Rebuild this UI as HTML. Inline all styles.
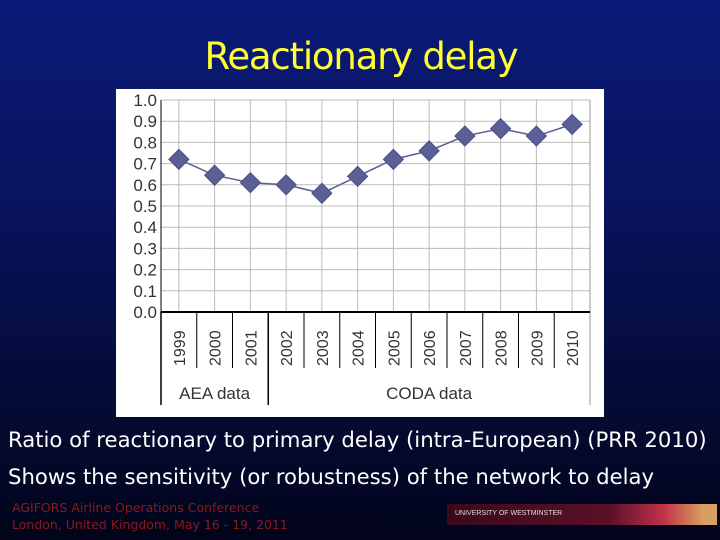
<!DOCTYPE html>
<html><head><meta charset="utf-8"><style>
body{margin:0;width:720px;height:540px;overflow:hidden;font-family:"Liberation Sans",sans-serif;}
#slide{position:relative;width:720px;height:540px;background:linear-gradient(180deg,#0b1a78 0%,#081460 35%,#050c3a 70%,#02041a 100%);}
.t{position:absolute;white-space:nowrap;}
</style></head><body>
<div id="slide">
<div class="t" style="left:0;width:722px;text-align:center;top:35px;font-size:37px;color:#ffff33;font-family:'DejaVu Sans',sans-serif;letter-spacing:-1.2px;">Reactionary delay</div>
<svg id="chart" style="position:absolute;left:116px;top:89px" width="488" height="328"></svg>
<div class="t" style="left:8px;top:427px;font-size:21.2px;color:#fff;font-family:'DejaVu Sans',sans-serif;">Ratio of reactionary to primary delay (intra-European) (PRR 2010)</div>
<div class="t" style="left:8px;top:464px;font-size:21.2px;color:#fff;font-family:'DejaVu Sans',sans-serif;">Shows the sensitivity (or robustness) of the network to delay</div>
<div class="t" style="left:12px;top:499px;font-size:12.5px;color:#8a1a1a;line-height:17px;font-family:'DejaVu Sans',sans-serif;">AGIFORS Airline Operations Conference<br>London, United Kingdom, May 16 - 19, 2011</div>
<div style="position:absolute;left:447px;top:504px;width:270px;height:21px;background:linear-gradient(90deg,#3a0a1a,#5a1028 60%,#c0304a 80%,#d8a060 95%);">
<span style="position:absolute;left:8px;top:6px;font-size:7px;color:#ddd;">UNIVERSITY OF WESTMINSTER</span></div>
</div>
<script>
const categories=["1999","2000","2001","2002","2003","2004","2005","2006","2007","2008","2009","2010"];
const values=[0.72,0.645,0.61,0.60,0.56,0.64,0.72,0.76,0.83,0.865,0.83,0.885];
const yTicks=["0.0","0.1","0.2","0.3","0.4","0.5","0.6","0.7","0.8","0.9","1.0"];
const groups=[{name:"AEA data",start:0,end:3},{name:"CODA data",start:3,end:12}];
const svg=document.getElementById('chart');
const NS="http://www.w3.org/2000/svg";
const L=45,R=474,T=11,B=223,Y2=279,BOT=316;
const bw=(R-L)/categories.length;
const x=i=>L+bw*(i+0.5);
const y=v=>B-(B-T)*v;
function mk(t,a){const e=document.createElementNS(NS,t);for(const k in a)e.setAttribute(k,a[k]);svg.appendChild(e);return e;}
let bg=mk('rect',{x:0,y:0,width:488,height:328,fill:'#fff'});

yTicks.forEach(t=>{const v=parseFloat(t);
 let g=mk('line',{x1:L,x2:R,y1:y(v),y2:y(v),stroke:'#bbb','stroke-width':1});
 
 let tx=mk('text',{x:L-4,y:y(v)+6,'text-anchor':'end','font-size':17,fill:'#333','font-family':'Liberation Sans'});tx.textContent=t;
 });
categories.forEach((c,i)=>{
 let g=mk('line',{x1:x(i),x2:x(i),y1:T,y2:B,stroke:'#bbb','stroke-width':1});
 
 let s=mk('line',{x1:L+bw*i,x2:L+bw*i,y1:B,y2:Y2,stroke:'#000','stroke-width':1});
 
 let tx=mk('text',{x:0,y:0,'font-size':16,fill:'#333','font-family':'Liberation Sans',transform:`translate(${x(i)+6},${Y2-2}) rotate(-90)`});tx.textContent=c;
 });
let rl=mk('line',{x1:R,x2:R,y1:T,y2:BOT,stroke:'#999'});
let la=mk('line',{x1:L,x2:L,y1:T,y2:BOT,stroke:'#000'});
let xa=mk('line',{x1:L,x2:R,y1:B,y2:B,stroke:'#000','stroke-width':2});
groups.forEach(g=>{
 let s=mk('line',{x1:L+bw*g.start,x2:L+bw*g.start,y1:B,y2:BOT,stroke:'#000','stroke-width':1.5});
 
 let tx=mk('text',{x:L+bw*(g.start+g.end)/2,y:310,'text-anchor':'middle','font-size':17,fill:'#333','font-family':'Liberation Sans'});tx.textContent=g.name;
 });
let pl=mk('polyline',{points:values.map((v,i)=>x(i)+','+y(v)).join(' '),fill:'none',stroke:'#5a5f96','stroke-width':1.5});

values.forEach((v,i)=>{const cx=x(i),cy=y(v),r=10;
 let p=mk('polygon',{points:`${cx},${cy-r} ${cx+r},${cy} ${cx},${cy+r} ${cx-r},${cy}`,fill:'#5a5f96',stroke:'#4a4f86'});
 });
</script>
</body></html>
